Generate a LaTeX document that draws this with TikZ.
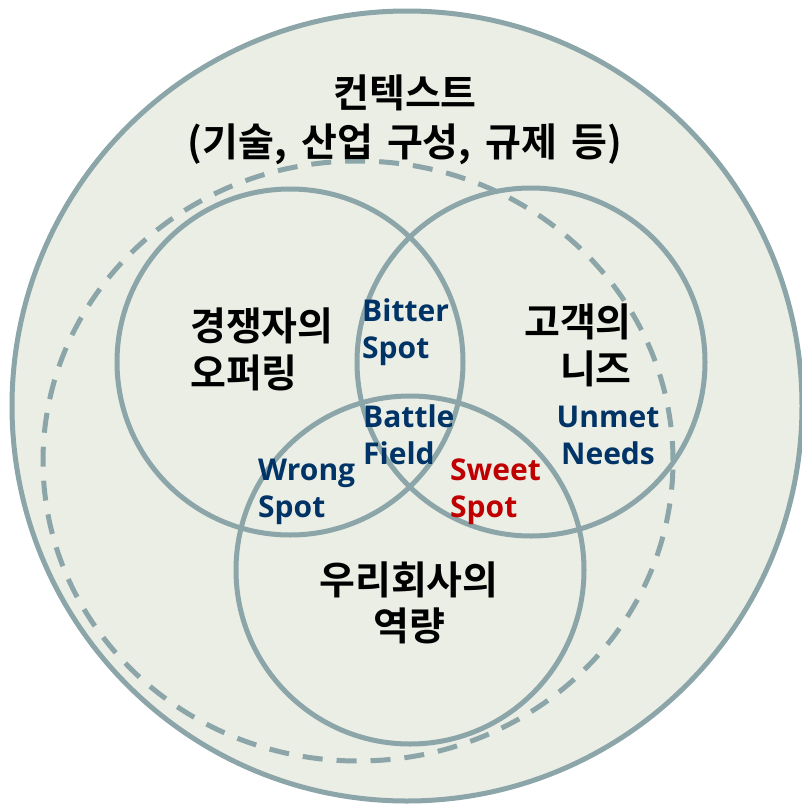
\documentclass[tikz,border=0pt]{standalone}
\usepackage{fontspec}
\usetikzlibrary{shapes.geometric}
\newfontfamily\krfont{Noto Sans CJK KR Bold}[WordSpace=1.6]
\newfontfamily\enfont{Open Sans}
\definecolor{ring}{HTML}{8BA5A8}
\definecolor{bgfill}{HTML}{EBEEE5}
\definecolor{navy}{HTML}{003366}
\definecolor{sweet}{HTML}{C00000}
\begin{document}
\begin{tikzpicture}[x=1pt,y=-1pt,
  ringline/.style={draw=ring, line width=5pt, circle, inner sep=0pt, minimum size=#1},
  kr/.style={font=\krfont\fontsize{39}{47}\selectfont, inner sep=0pt, text=black},
  en/.style={font=\enfont\bfseries\fontsize{30}{37}\selectfont, inner sep=0pt, text=navy},
]
\useasboundingbox (0,0) rectangle (802,806);
\node[ringline=790pt, fill=bgfill] (context) at (407,406) {};
\node[draw=ring, line width=5pt, ellipse, inner sep=0pt, minimum width=630pt, minimum height=600pt, dash pattern=on 20pt off 14pt] (scopeline) at (358,461) {};
\node[ringline=346pt] (comp) at (290,362) {};
\node[ringline=348pt] (cust) at (531,362) {};
\node[ringline=348pt] (ours) at (410,570) {};

\node[kr, anchor=base, align=center, font=\krfont\fontsize{39}{49}\selectfont] (title) at (405,156) {컨텍스트\\(기술, 산업 구성, 규제 등)};
\node[kr, anchor=base west, align=left] (compt) at (190,387) {경쟁자의\\오퍼링};
\node[kr, anchor=base east, align=right] (custt) at (632,383) {고객의\\니즈};
\node[kr, anchor=base, align=center, font=\krfont\fontsize{39}{46}\selectfont] (ourst) at (409,640) {우리회사의\\역량};

\node[en, anchor=base west, align=left] (bitter) at (362,358) {Bitter\\Spot};
\node[en, anchor=base west, align=left] (battle) at (363,464) {Battle\\Field};
\node[en, anchor=base west, align=left] (wrong) at (258,517) {Wrong\\Spot};
\node[en, anchor=base west, align=left, text=sweet] (sweetspot) at (450,517) {Sweet\\Spot};
\node[en, anchor=base, align=center] (unmet) at (608,464) {Unmet\\Needs};
\end{tikzpicture}
\end{document}
